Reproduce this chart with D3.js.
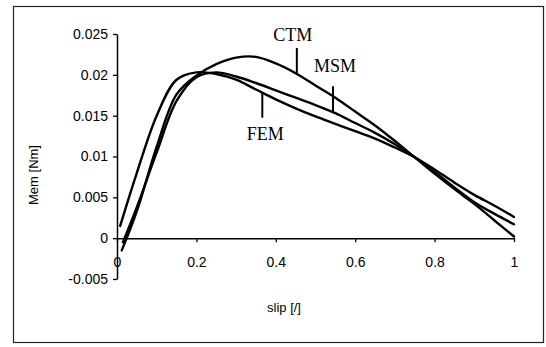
<!DOCTYPE html>
<html>
<head>
<meta charset="utf-8">
<script src="https://cdn.jsdelivr.net/npm/d3@7"></script>
<style>
  html, body { margin: 0; padding: 0; background: #fff; }
  svg { display: block; }
</style>
</head>
<body>
<svg id="chart" width="546" height="347"></svg>
<script>
// ---- data ----
const femSlip   = [0.008, 0.05, 0.1, 0.15, 0.2, 0.25, 0.3, 0.35, 0.4, 0.45, 0.5, 0.55, 0.6, 0.65, 0.7, 0.75, 0.8, 0.85, 0.9, 0.95, 1.0];
const femTorque = [0.0015, 0.0080, 0.0150, 0.0194, 0.0203, 0.0201, 0.0194, 0.0182, 0.0170, 0.0159, 0.0149, 0.0140, 0.0131, 0.0122, 0.0111, 0.0099, 0.0084, 0.0068, 0.0053, 0.0040, 0.0026];

const ctmSlip   = [0.012, 0.05, 0.1, 0.15, 0.2, 0.25, 0.3, 0.35, 0.4, 0.45, 0.5, 0.55, 0.6, 0.65, 0.7, 0.75, 0.8, 0.85, 0.9, 0.95, 1.0];
const ctmTorque = [-0.0015, 0.0033, 0.0112, 0.0176, 0.0199, 0.0213, 0.0221, 0.0222, 0.0214, 0.0202, 0.0187, 0.0172, 0.0155, 0.0138, 0.0119, 0.0099, 0.0079, 0.0060, 0.0042, 0.0022, 0.0002];

const msmSlip   = [0.015, 0.05, 0.1, 0.15, 0.2, 0.25, 0.3, 0.35, 0.4, 0.45, 0.5, 0.55, 0.6, 0.65, 0.7, 0.75, 0.8, 0.85, 0.9, 0.95, 1.0];
const msmTorque = [-0.0005, 0.0038, 0.0105, 0.0168, 0.0197, 0.0203, 0.0198, 0.0190, 0.0181, 0.0172, 0.0163, 0.0153, 0.0141, 0.0129, 0.0115, 0.0099, 0.0081, 0.0062, 0.0044, 0.0030, 0.0017];

const xTickValues = [0, 0.2, 0.4, 0.6, 0.8, 1];
const xTickLabels = ["0", "0.2", "0.4", "0.6", "0.8", "1"];
const yTickValues = [-0.005, 0, 0.005, 0.01, 0.015, 0.02, 0.025];
const yTickLabels = ["-0.005", "0", "0.005", "0.01", "0.015", "0.02", "0.025"];

const annotNames = ["CTM", "MSM", "FEM"];
const annotSlip  = [0.453, 0.544, 0.366];

// ---- drawing ----
const svg = d3.select("#chart");
svg.append("rect").attr("x", 0).attr("y", 0).attr("width", 546).attr("height", 347).attr("fill", "#fff");

// outer frame
svg.append("rect")
  .attr("x", 13.5).attr("y", 6.5).attr("width", 530).attr("height", 336)
  .attr("fill", "none").attr("stroke", "#222").attr("stroke-width", 1.2);

const x = d3.scaleLinear().domain([0, 1]).range([117, 514]);
const y = d3.scaleLinear().domain([-0.005, 0.025]).range([279, 34]);

const font = "'Liberation Sans', Arial, sans-serif";

const yAxis = svg.append("g")
  .attr("transform", `translate(${x(0)},0)`)
  .call(d3.axisLeft(y).tickValues(yTickValues).tickSize(4).tickSizeOuter(0).tickPadding(5)
    .tickFormat((d, i) => yTickLabels[i]));
const xAxis = svg.append("g")
  .attr("transform", `translate(0,${y(0)})`)
  .call(d3.axisBottom(x).tickValues(xTickValues).tickSize(4).tickSizeOuter(0).tickPadding(15)
    .tickFormat((d, i) => xTickLabels[i]));

[yAxis, xAxis].forEach(g => {
  g.select(".domain").attr("stroke", "#000").attr("stroke-width", 1.5);
  g.selectAll(".tick line").attr("stroke", "#000").attr("stroke-width", 1.3);
  g.selectAll(".tick text").attr("fill", "#000").style("font-family", font).style("font-size", "14px");
});

svg.append("text")
  .attr("transform", `translate(38,175) rotate(-90)`)
  .attr("text-anchor", "middle")
  .style("font-family", font).style("font-size", "13px")
  .text("Mem [Nm]");
svg.append("text")
  .attr("x", 284).attr("y", 312)
  .attr("text-anchor", "middle")
  .style("font-family", font).style("font-size", "13px")
  .text("slip [/]");

const line = d3.line()
  .x(d => x(d[0])).y(d => y(d[1]))
  .curve(d3.curveCatmullRom.alpha(0.5));

const series = [
  { name: "FEM", s: femSlip, t: femTorque },
  { name: "CTM", s: ctmSlip, t: ctmTorque },
  { name: "MSM", s: msmSlip, t: msmTorque }
];
series.forEach(se => {
  svg.append("path")
    .datum(se.s.map((v, i) => [v, se.t[i]]))
    .attr("d", line)
    .attr("fill", "none")
    .attr("stroke", "#000")
    .attr("stroke-width", 2.4)
    .attr("stroke-linejoin", "round")
    .attr("stroke-linecap", "round");
});

function interp(sArr, tArr, s) {
  for (let i = 0; i < sArr.length - 1; i++) {
    if (s >= sArr[i] && s <= sArr[i + 1]) {
      const f = (s - sArr[i]) / (sArr[i + 1] - sArr[i]);
      return tArr[i] + f * (tArr[i + 1] - tArr[i]);
    }
  }
  return tArr[tArr.length - 1];
}
const serif = "'Liberation Serif', 'Times New Roman', serif";
{
  const s = annotSlip[0], v = interp(ctmSlip, ctmTorque, s);
  const px = x(s), py = y(v);
  svg.append("line").attr("x1", px).attr("x2", px).attr("y1", py).attr("y2", py - 26)
    .attr("stroke", "#000").attr("stroke-width", 2);
  svg.append("text").attr("x", px - 4).attr("y", py - 33).attr("text-anchor", "middle")
    .style("font-family", serif).style("font-size", "18px").text(annotNames[0]);
}
{
  const s = annotSlip[1], v = interp(msmSlip, msmTorque, s);
  const px = x(s), py = y(v);
  svg.append("line").attr("x1", px).attr("x2", px).attr("y1", py).attr("y2", py - 26)
    .attr("stroke", "#000").attr("stroke-width", 2);
  svg.append("text").attr("x", px + 2).attr("y", py - 40).attr("text-anchor", "middle")
    .style("font-family", serif).style("font-size", "18px").text(annotNames[1]);
}
{
  const s = annotSlip[2], v = interp(femSlip, femTorque, s);
  const px = x(s), py = y(v);
  svg.append("line").attr("x1", px).attr("x2", px).attr("y1", py).attr("y2", py + 25)
    .attr("stroke", "#000").attr("stroke-width", 2);
  svg.append("text").attr("x", px + 3).attr("y", py + 47).attr("text-anchor", "middle")
    .style("font-family", serif).style("font-size", "18px").text(annotNames[2]);
}
</script>
</body>
</html>
